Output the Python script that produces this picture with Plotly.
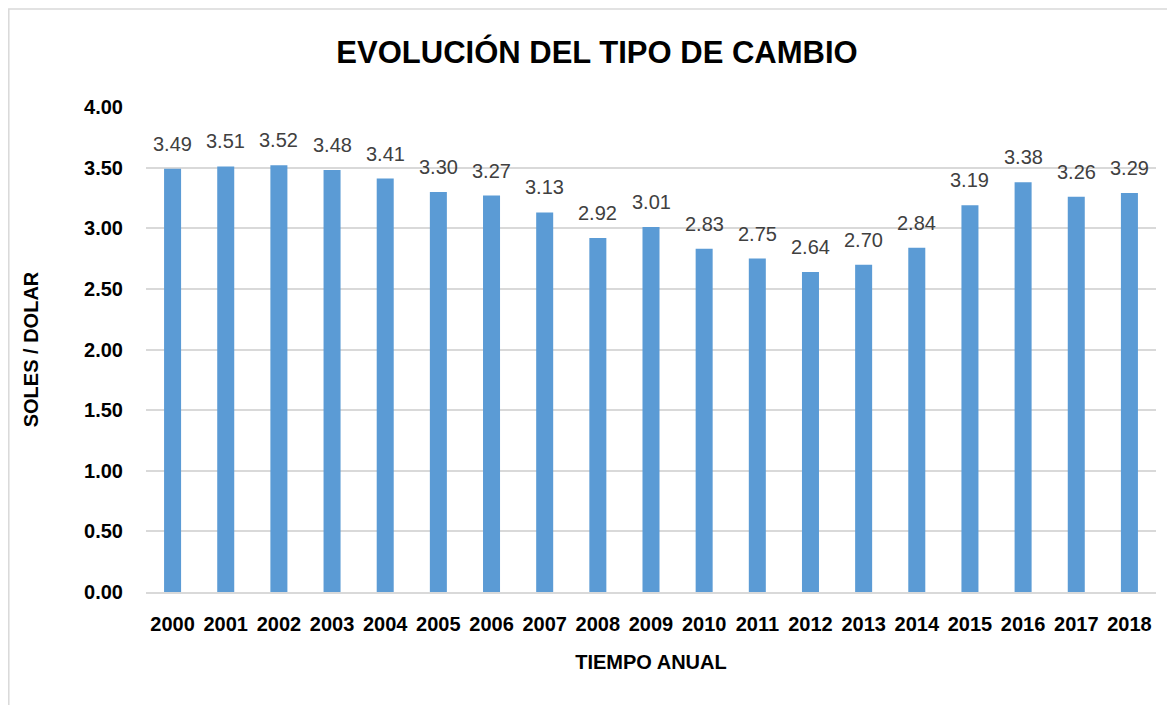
import plotly.graph_objects as go

years = ["2000", "2001", "2002", "2003", "2004", "2005", "2006", "2007", "2008", "2009",
         "2010", "2011", "2012", "2013", "2014", "2015", "2016", "2017", "2018"]
rates = [3.49, 3.51, 3.52, 3.48, 3.41, 3.30, 3.27, 3.13, 2.92, 3.01,
         2.83, 2.75, 2.64, 2.70, 2.84, 3.19, 3.38, 3.26, 3.29]
y_ticks = [0, 0.5, 1.0, 1.5, 2.0, 2.5, 3.0, 3.5, 4.0]

FONT = "Liberation Sans"
OFF = 8  # page body margin
W, H = 1175 - OFF, 705 - OFF
L, R, T, B = 146 - OFF, 1156 - OFF, 107 - OFF, 592 - OFF

fig = go.Figure()
fig.add_trace(go.Bar(x=list(range(len(years))), y=rates,
                     marker=dict(color="#5B9BD5", line=dict(width=0)),
                     width=0.32, hovertext=years, hoverinfo="text+y"))

for i, v in enumerate(rates):
    fig.add_annotation(x=i, y=v, text=f"{v:.2f}", showarrow=False, yanchor="bottom",
                       yshift=12, font=dict(family=FONT, size=20, color="#404040"))

# outer chart border
fig.add_shape(type="rect", xref="paper", yref="paper",
              x0=(0.8 - L) / (R - L), x1=1.2, y0=-0.5, y1=(B - (9 - OFF)) / (B - T),
              line=dict(color="#D9D9D9", width=1.5), layer="below")

fig.update_layout(
    width=W, height=H,
    margin=dict(l=L, r=W - R, t=T, b=H - B, pad=0),
    paper_bgcolor="white", plot_bgcolor="white",
    showlegend=False,
    title=dict(text="<b>EVOLUCIÓN DEL TIPO DE CAMBIO</b>", x=(597 - OFF) / W, xanchor="center",
               y=1 - (52 - OFF) / H, yanchor="middle",
               font=dict(family=FONT, size=31, color="black")),
    xaxis=dict(range=[-0.5, len(years) - 0.5], tickvals=list(range(len(years))), ticktext=years,
               showgrid=False, zeroline=False, showline=True, linecolor="#D9D9D9", linewidth=1.5,
               ticks="outside", ticklen=13, tickcolor="rgba(0,0,0,0)",
               tickfont=dict(family=FONT, size=20, color="black", weight="bold"),
               title=dict(text="<b>TIEMPO ANUAL</b>", standoff=21,
                          font=dict(family=FONT, size=20, color="black"))),
    yaxis=dict(range=[0, 4], tickvals=y_ticks, ticktext=[f"{t:.2f}" for t in y_ticks],
               showgrid=True, gridcolor="#D9D9D9", gridwidth=1.5, zeroline=False,
               ticks="outside", ticklen=18, tickcolor="rgba(0,0,0,0)",
               tickfont=dict(family=FONT, size=20, color="black", weight="bold"),
               title=dict(text="<b>SOLES / DOLAR</b>", standoff=40,
                          font=dict(family=FONT, size=20, color="black"))),
)

fig.write_html("out.html")
